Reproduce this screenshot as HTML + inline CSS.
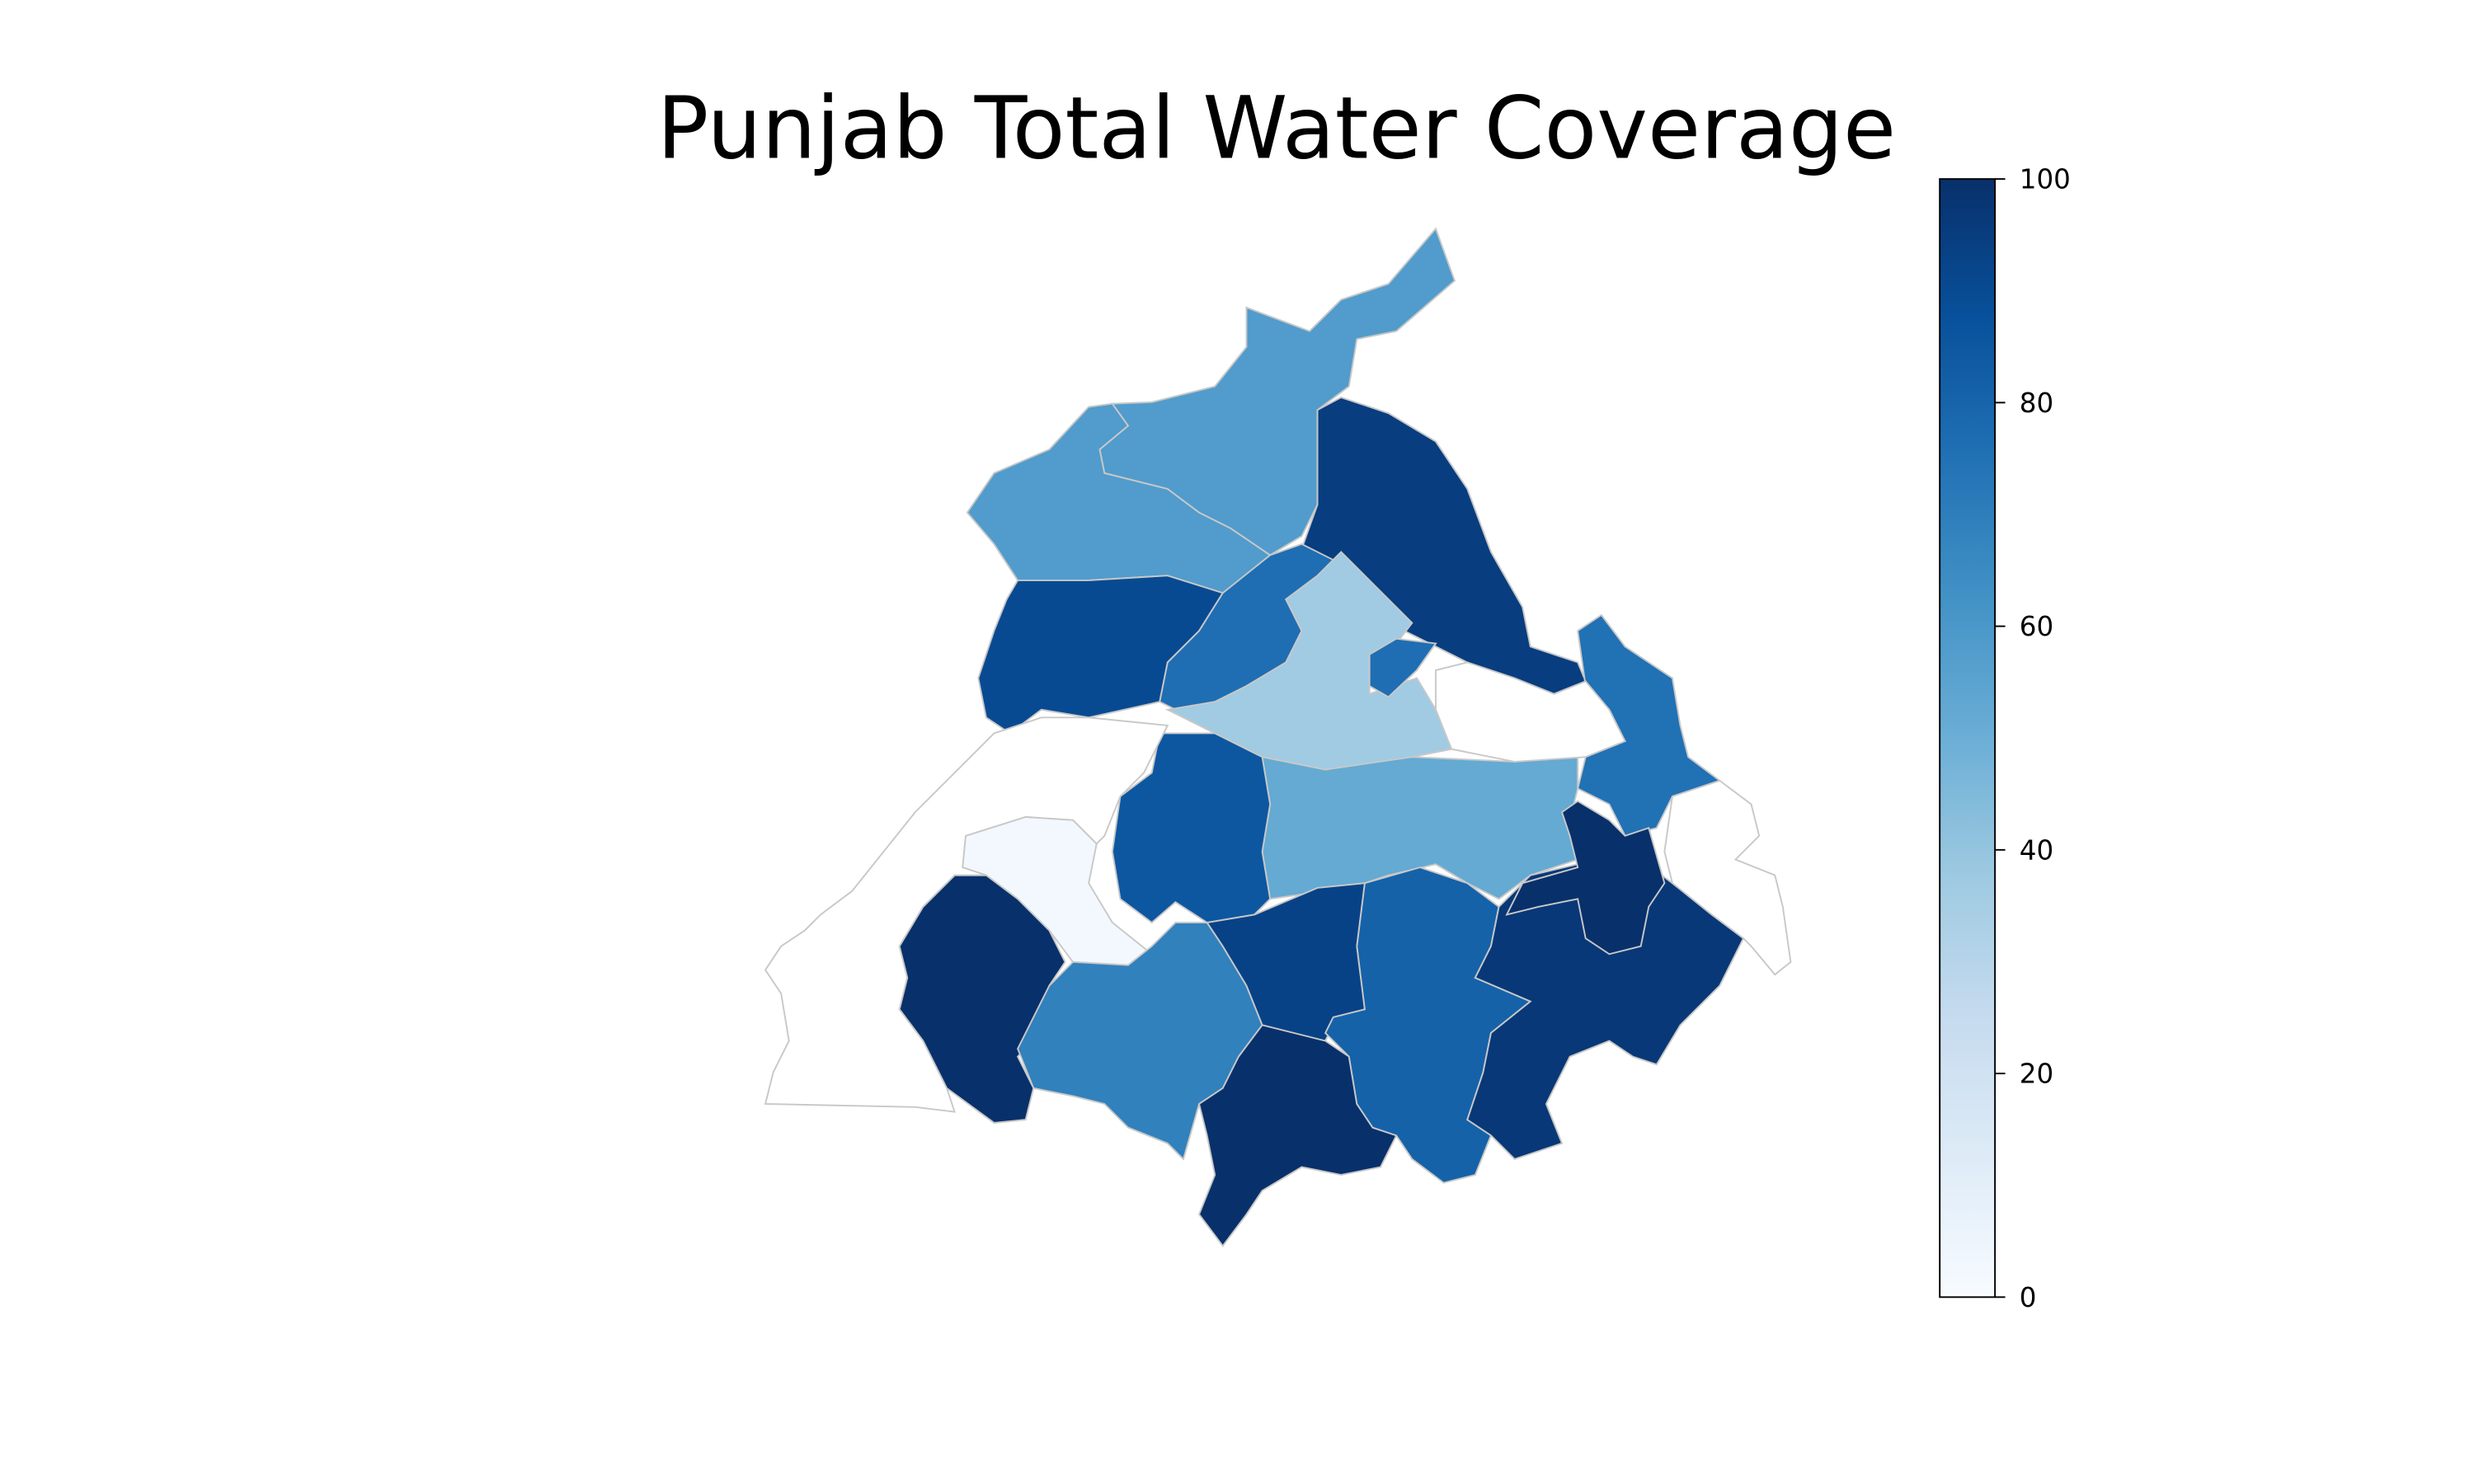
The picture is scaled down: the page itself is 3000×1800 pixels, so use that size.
<!DOCTYPE html>
<html><head><meta charset="utf-8"><style>
html,body{margin:0;padding:0;background:#fff}
svg{display:block}
text{font-family:"DejaVu Sans","Liberation Sans",sans-serif}
</style></head><body>
<svg id="chart" width="3000" height="1800" viewBox="0 0 1568 941" xmlns="http://www.w3.org/2000/svg">
<defs><linearGradient id="cbar" x1="0" y1="1" x2="0" y2="0">
<stop offset="0" stop-color="#f7fbff"/><stop offset="0.125" stop-color="#deebf7"/><stop offset="0.25" stop-color="#c6dbef"/><stop offset="0.375" stop-color="#9ecae1"/><stop offset="0.5" stop-color="#6baed6"/><stop offset="0.625" stop-color="#4292c6"/><stop offset="0.75" stop-color="#2171b5"/><stop offset="0.875" stop-color="#08519c"/><stop offset="1" stop-color="#08306b"/>
</linearGradient></defs>
<text x="809" y="100" font-size="54.5" text-anchor="middle" fill="#000">Punjab Total Water Coverage</text>
<g id="map"></g>
<g id="cb">
<rect x="1229.5" y="113.5" width="35" height="709" fill="url(#cbar)" stroke="#000" stroke-width="1"/>
</g>
</svg>
<script>
// District values (% coverage); null = no data
const districts = ["Amritsar","Gurdaspur","Hoshiarpur","Tarn Taran","Kapurthala","Jalandhar","Kapurthala-2","Rupnagar","Ludhiana","Moga","Faridkot","Muktsar","Bathinda","Barnala","Mansa","Sangrur","Patiala","Fatehgarh Sahib","Nawanshahr","Firozpur","SAS Nagar"];
const values = [58,58,95,90,76,37,76,75,52,85,2,100,69,93,100,81,97,100,null,null,null];
const tickValues = [0,20,40,60,80,100];
const tickLabels = ["0","20","40","60","80","100"];

// geometry (display coordinates)
const shapes = [
"613,325 630,300 665,285 690,258 705,256 715,270 697,285 700,300 740,310 760,325 780,335 805,352 790,365 775,376 740,365 690,368 645,368 630,345",
"705,256 715,270 697,285 700,300 740,310 760,325 780,335 805,352 825,340 835,320 835,260 855,245 860,215 885,210 922,178 910,145 880,180 850,190 830,210 790,195 790,220 770,245 730,255",
"835,260 850,252 880,262 910,280 930,310 945,350 965,385 970,410 1000,420 1005,432 985,440 975,450 950,430 910,410 890,400 870,380 845,360 825,348 835,320",
"645,368 690,368 740,365 775,376 760,400 740,420 735,445 690,455 660,450 640,465 625,455 620,430 630,400 638,380",
"775,376 805,352 825,345 845,355 835,370 815,380 825,400 815,420 790,435 770,445 745,450 735,445 740,420 760,400",
"815,380 835,365 850,350 870,370 895,395 885,408 868,415 868,440 898,430 910,450 920,475 895,480 865,485 840,488 800,480 770,465 740,450 770,445 790,435 815,420 825,400",
"868,415 885,405 910,408 898,425 880,442 868,435",
"1000,400 1015,390 1030,410 1060,430 1065,460 1070,480 1090,495 1060,505 1050,525 1030,530 1020,510 1000,500 1005,480 1030,470 1020,450 1005,435",
"800,480 840,488 895,480 960,483 1000,480 1000,500 995,520 1000,545 970,555 950,570 930,560 910,548 880,555 865,560 840,565 805,570 800,540 805,510",
"735,465 770,465 800,480 805,510 800,540 805,570 795,580 765,585 745,572 730,585 710,570 705,540 710,505 730,490",
"610,550 612,530 650,518 680,520 695,535 690,560 705,585 730,605 715,612 680,610 665,590 645,570 625,555",
"570,600 585,575 605,555 625,555 645,570 665,590 675,610 665,625 655,660 645,670 655,690 650,710 630,712 600,690 585,660 570,640 575,620",
"665,625 680,610 715,612 730,600 745,585 765,585 775,600 790,625 800,650 785,670 775,690 760,700 750,735 740,725 715,715 700,700 680,695 655,690 645,665",
"765,585 795,580 835,563 865,560 860,600 865,640 845,650 840,660 810,655 800,650 790,625 775,600",
"760,700 775,690 785,670 800,650 840,660 855,670 860,700 870,715 885,720 875,740 850,745 825,740 800,755 790,770 775,790 760,770 770,745 765,720",
"865,560 900,550 930,560 950,575 945,600 935,620 970,635 945,655 940,680 930,710 945,720 935,745 915,750 895,735 885,720 870,715 860,700 855,670 840,655 845,645 865,640 860,600",
"950,575 970,555 1000,548 1020,550 1040,545 1060,560 1085,580 1105,595 1090,625 1065,650 1050,675 1035,670 1020,660 995,670 980,700 990,725 960,735 945,720 930,710 940,680 945,655 970,635 935,620 945,600",
"990,515 1000,508 1020,520 1030,530 1045,525 1055,560 1045,575 1040,600 1020,605 1005,595 1000,570 975,575 955,580 965,560 1000,550 995,530",
"910,425 930,420 960,430 985,440 1005,432 1020,450 1030,470 1005,480 960,483 920,475 910,450",
"485,700 490,680 500,660 495,630 485,615 495,600 510,590 520,580 540,565 560,540 580,515 600,495 615,480 630,465 660,455 690,455 740,460 725,490 710,505 700,530 695,535 680,520 650,518 612,530 610,550 625,555 605,555 585,575 570,600 575,620 570,640 585,660 600,690 605,705 580,702",
"1090,495 1110,510 1115,530 1100,545 1125,555 1130,575 1135,610 1125,618 1110,600 1105,595 1085,580 1060,560 1055,540 1060,505"
];
const stops = [[247,251,255],[222,235,247],[198,219,239],[158,202,225],[107,174,214],[66,146,198],[33,113,181],[8,81,156],[8,48,107]];
function colorFor(v){
  const t=Math.max(0,Math.min(1,v/100))*8; const i=Math.min(7,Math.floor(t)); const f=t-i;
  const c=stops[i].map((a,k)=>Math.round(a+(stops[i+1][k]-a)*f));
  return `rgb(${c[0]},${c[1]},${c[2]})`;
}
const NS="http://www.w3.org/2000/svg";
const map=document.getElementById('map');
districts.forEach((d,i)=>{
  const p=document.createElementNS(NS,'polygon');
  p.setAttribute('points',shapes[i]);
  p.setAttribute('fill',values[i]==null?'#ffffff':colorFor(values[i]));
  p.setAttribute('stroke','#c8c8c8');
  p.setAttribute('stroke-width','1');
  
  
  map.appendChild(p);
});
// colorbar axis
const cb=document.getElementById('cb');
const y0=822.5,y1=113.5;
function cbY(v){return y0+(y1-y0)*v/100;}
tickValues.forEach((v,i)=>{
  const y=cbY(v);
  const l=document.createElementNS(NS,'line');
  l.setAttribute('x1',1264.5);l.setAttribute('x2',1271);l.setAttribute('y1',y);l.setAttribute('y2',y);
  l.setAttribute('stroke','#000');l.setAttribute('stroke-width','1');
  
  
  cb.appendChild(l);
  const t=document.createElementNS(NS,'text');
  t.setAttribute('x',1280);t.setAttribute('y',y+6);t.setAttribute('font-size','17');
  t.textContent=tickLabels[i];
  
  
  cb.appendChild(t);
});
</script>
</body></html>
